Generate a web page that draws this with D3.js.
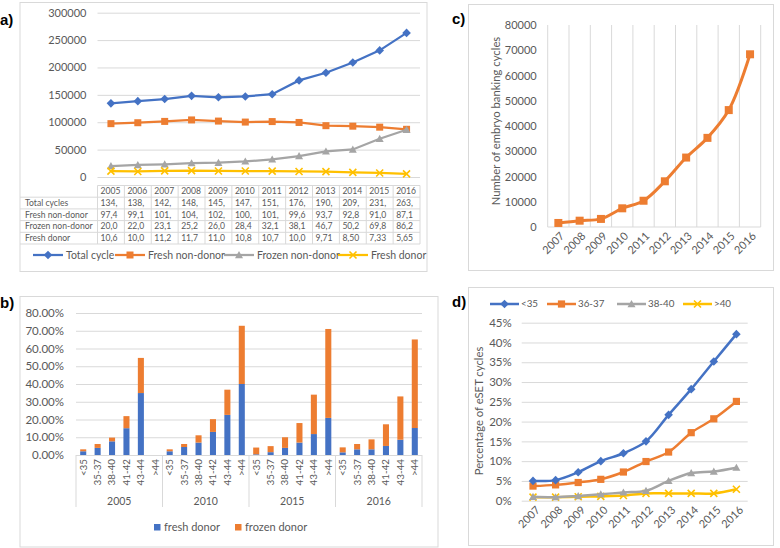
<!DOCTYPE html>
<html><head><meta charset="utf-8">
<script src="https://cdn.jsdelivr.net/npm/d3@7"></script>
<style>
body{margin:0;background:#fff}
svg{display:block}
text{font-family:Lato,"Liberation Sans",sans-serif;fill:#595959}
</style>
</head><body>
<svg id="chart" width="780" height="548"></svg>
<script>
// ---------- DATA ----------
// Panel a
const yearsA = ["2005","2006","2007","2008","2009","2010","2011","2012","2013","2014","2015","2016"];
const totalCycles    = [134500,138500,142300,148200,145600,147100,151200,176400,190300,209200,231200,263100];
const freshNonDonor  = [97400,99100,101500,104200,102100,100300,101200,99600,93700,92800,91000,87100];
const frozenNonDonor = [20050,22010,23150,25250,26050,28450,32150,38150,46750,50250,69850,86250];
const freshDonor     = [10650,10050,11250,11750,11050,10850,10750,10050,9715,8505,7335,5655];
const seriesA = ["Total cycle","Fresh non-donor","Frozen non-donor","Fresh donor"];
const rowLabelsA = ["Total cycles","Fresh non-donor","Frozen non-donor","Fresh donor"];
const ticksA = [0,50000,100000,150000,200000,250000,300000];

// Panel b
const yearsB = ["2005","2010","2015","2016"];
const ageGroupsB = ["<35","35-37","38-40","41-42","43-44",">44"];
const freshDonorB  = [0.021,0.040,0.077,0.151,0.349,0,  0.021,0.045,0.070,0.130,0.226,0.400,
                      0.004,0.016,0.040,0.070,0.118,0.209, 0.015,0.032,0.032,0.051,0.086,0.152];
const frozenDonorB = [0.011,0.022,0.021,0.068,0.198,0,  0.011,0.017,0.041,0.072,0.142,0.328,
                      0.038,0.034,0.060,0.110,0.222,0.501, 0.028,0.030,0.056,0.122,0.244,0.499];
const seriesB = ["fresh donor","frozen donor"];
const ticksB = [0,0.1,0.2,0.3,0.4,0.5,0.6,0.7,0.8];

// Panel c
const yearsC = ["2007","2008","2009","2010","2011","2012","2013","2014","2015","2016"];
const bankingCycles = [1600,2500,3200,7400,10400,18100,27500,35300,46300,68400];
const ticksC = [0,10000,20000,30000,40000,50000,60000,70000,80000];

// Panel d
const yearsD = ["2007","2008","2009","2010","2011","2012","2013","2014","2015","2016"];
const eset_lt35  = [0.050,0.052,0.072,0.100,0.120,0.150,0.217,0.282,0.352,0.421];
const eset_36_37 = [0.037,0.040,0.046,0.054,0.0725,0.099,0.123,0.172,0.207,0.251];
const eset_38_40 = [0.010,0.009,0.012,0.016,0.021,0.025,0.050,0.070,0.074,0.0835];
const eset_gt40  = [0.009,0.009,0.010,0.011,0.013,0.0185,0.0185,0.0185,0.0185,0.029];
const seriesD = ["<35","36-37","38-40",">40"];
const ticksD = [0,0.05,0.1,0.15,0.2,0.25,0.3,0.35,0.4,0.45];

// ---------- STYLE ----------
const GRID = "#D9D9D9", TXT = "#595959";
const COL = {blue:"#4472C4", orange:"#ED7D31", gray:"#A5A5A5", yellow:"#FFC000"};
const svg = d3.select("#chart");

function marker(g, type, x, y, color, s) {
  if (type === "diamond") {
    g.append("path").attr("d", `M${x},${y-s}L${x+s},${y}L${x},${y+s}L${x-s},${y}Z`).attr("fill", color);
  } else if (type === "square") {
    g.append("rect").attr("x", x-s).attr("y", y-s).attr("width", 2*s).attr("height", 2*s).attr("fill", color);
  } else if (type === "triangle") {
    g.append("path").attr("d", `M${x},${y-s}L${x+s},${y+s*0.8}L${x-s},${y+s*0.8}Z`).attr("fill", color);
  } else if (type === "x") {
    g.append("path").attr("d", `M${x-s},${y-s}L${x+s},${y+s}M${x-s},${y+s}L${x+s},${y-s}`)
      .attr("stroke", color).attr("stroke-width", 1.6).attr("fill", "none");
  }
}
function box(x, y, w, h) {
  svg.append("rect").attr("x", x+0.5).attr("y", y+0.5).attr("width", w).attr("height", h)
    .attr("fill", "none").attr("stroke", GRID).attr("stroke-width", 1);
}
function panelLabel(t, x, y) {
  svg.append("text").attr("x", x).attr("y", y).text(t)
    .style("font-family", "'Liberation Sans',Arial,sans-serif").style("font-weight", "bold")
    .style("font-size", "15px").style("fill", "#000");
}
function yGrid(g, scale, ticks, x0, width, fmt, pad, fs) {
  const ax = d3.axisLeft(scale).tickValues(ticks).tickSize(-width).tickPadding(pad).tickFormat(fmt);
  const a = g.append("g").attr("transform", `translate(${x0},0)`).call(ax);
  a.select(".domain").remove();
  a.selectAll("line").attr("stroke", GRID);
  a.selectAll("text").style("font-size", fs).style("fill", TXT).style("font-family", "Lato,'Liberation Sans',sans-serif");
  return a;
}

// ---------- PANEL A ----------
box(19.5, 2, 407, 269);
panelLabel("a)", 0, 25);
{
  const g = svg.append("g");
  const x = d3.scaleBand().domain(yearsA).range([97.5, 420]);
  const y = d3.scaleLinear().domain([0, 300000]).range([177, 12.7]);
  const cx = d => x(d) + x.bandwidth()/2;
  yGrid(g, y, ticksA, 97.5, 322.5, d3.format("d"), 11, "11px");
  const sets = [
    {vals: totalCycles, color: COL.blue, m: "diamond", s: 4.3},
    {vals: freshNonDonor, color: COL.orange, m: "square", s: 3.5},
    {vals: frozenNonDonor, color: COL.gray, m: "triangle", s: 4},
    {vals: freshDonor, color: COL.yellow, m: "x", s: 3.5}
  ];
  const line = d3.line().x((d,i) => cx(yearsA[i])).y(d => y(d));
  sets.forEach(st => {
    g.append("path").attr("d", line(st.vals)).attr("fill", "none").attr("stroke", st.color).attr("stroke-width", 2.25);
    st.vals.forEach((v,i) => marker(g, st.m, cx(yearsA[i]), y(v), st.color, st.s));
  });
  // data table
  const t = svg.append("g");
  const rowH = 11.7, top = 185.5;
  const x0 = 20, x1 = 97.5, x2 = 420;
  t.append("line").attr("x1", x1).attr("x2", x2).attr("y1", top).attr("y2", top).attr("stroke", GRID);
  for (let r = 1; r <= 5; r++) {
    t.append("line").attr("x1", x0).attr("x2", x2).attr("y1", top + r*rowH).attr("y2", top + r*rowH).attr("stroke", GRID);
  }
  yearsA.concat(["_end"]).forEach((yr, i) => {
    const xx = i < yearsA.length ? x(yr) : x2;
    t.append("line").attr("x1", xx).attr("x2", xx).attr("y1", top).attr("y2", top + 5*rowH).attr("stroke", GRID);
  });
  const tfs = "8.6px";
  yearsA.forEach(yr => {
    t.append("text").attr("x", x(yr) + 3).attr("y", top + rowH/2).attr("dy", "0.35em").text(yr).style("font-size", tfs);
  });
  const rows = [totalCycles, freshNonDonor, frozenNonDonor, freshDonor];
  rows.forEach((vals, r) => {
    const yy = top + (r + 1.5)*rowH;
    t.append("text").attr("x", 25).attr("y", yy).attr("dy", "0.35em").text(rowLabelsA[r]).style("font-size", tfs);
    vals.forEach((v, i) => {
      t.append("text").attr("x", x(yearsA[i]) + 3).attr("y", yy).attr("dy", "0.35em")
        .text(d3.format(",")(v).slice(0, 4)).style("font-size", tfs);
    });
  });
  // legend
  const lg = svg.append("g");
  const lx = [33, 115, 224, 338];
  sets.forEach((st, i) => {
    const ly = 255;
    lg.append("line").attr("x1", lx[i]).attr("x2", lx[i] + 30).attr("y1", ly).attr("y2", ly).attr("stroke", st.color).attr("stroke-width", 2.25);
    marker(lg, st.m, lx[i] + 15, ly, st.color, st.s);
    lg.append("text").attr("x", lx[i] + 33).attr("y", ly).attr("dy", "0.35em").text(seriesA[i]).style("font-size", "10.5px");
  });
}

// ---------- PANEL B ----------
box(19.5, 296, 418, 250.5);
panelLabel("b)", 0, 308);
{
  const g = svg.append("g");
  const keys = [];
  yearsB.forEach(yr => ageGroupsB.forEach(a => keys.push(yr + "|" + a)));
  const x = d3.scaleBand().domain(keys).range([76, 422]).paddingInner(0.58).paddingOuter(0.29);
  const y = d3.scaleLinear().domain([0, 0.8]).range([455, 313]);
  yGrid(g, y, ticksB, 76, 346, d3.format(".2%"), 12, "11.5px");
  const rows = keys.map((k, i) => ({key: k, fresh: freshDonorB[i], frozen: frozenDonorB[i]}));
  const stack = d3.stack().keys(["fresh", "frozen"])(rows);
  const colors = [COL.blue, COL.orange];
  stack.forEach((layer, li) => {
    g.selectAll(null).data(layer).join("rect")
      .attr("x", d => x(d.data.key)).attr("width", x.bandwidth())
      .attr("y", d => y(d[1])).attr("height", d => y(d[0]) - y(d[1]))
      .attr("fill", colors[li]);
  });
  // category labels
  keys.forEach(k => {
    const cx = x(k) + x.bandwidth()/2;
    g.append("text").attr("transform", `translate(${cx},459) rotate(-90)`).attr("text-anchor", "end")
      .attr("dy", "0.35em").text(k.split("|")[1]).style("font-size", "9.8px");
  });
  const step = x.step();
  yearsB.forEach((yr, i) => {
    const gx0 = x(yr + "|" + ageGroupsB[0]) - x.paddingOuter()*step - 0;
    const gx = 76 + i * (346/yearsB.length);
    g.append("line").attr("x1", gx).attr("x2", gx).attr("y1", 455).attr("y2", 507).attr("stroke", GRID);
    g.append("text").attr("x", gx + 346/yearsB.length/2).attr("y", 504.5).attr("text-anchor", "middle")
      .text(yr).style("font-size", "10.5px");
  });
  g.append("line").attr("x1", 422).attr("x2", 422).attr("y1", 455).attr("y2", 507).attr("stroke", GRID);
  // legend
  const lx = [154, 235];
  seriesB.forEach((s, i) => {
    g.append("rect").attr("x", lx[i]).attr("y", 524).attr("width", 6.5).attr("height", 6.5).attr("fill", colors[i]);
    g.append("text").attr("x", lx[i] + 10).attr("y", 527.5).attr("dy", "0.35em").text(s).style("font-size", "11px");
  });
}

// ---------- PANEL C ----------
box(468, 4, 305, 266);
panelLabel("c)", 452, 24);
{
  const g = svg.append("g");
  const x = d3.scaleBand().domain(yearsC).range([547.7, 760.7]);
  const y = d3.scaleLinear().domain([0, 80000]).range([227, 25]);
  const cx = d => x(d) + x.bandwidth()/2;
  // vertical gridlines
  yearsC.concat(["_end"]).forEach((yr, i) => {
    const xx = i < yearsC.length ? x(yr) : 760.7;
    g.append("line").attr("x1", xx).attr("x2", xx).attr("y1", 25).attr("y2", 227).attr("stroke", GRID);
  });
  g.append("line").attr("x1", 547.7).attr("x2", 760.7).attr("y1", 227).attr("y2", 227).attr("stroke", GRID);
  const ax = g.append("g").attr("transform", "translate(547.7,0)")
    .call(d3.axisLeft(y).tickValues(ticksC).tickSize(0).tickPadding(11).tickFormat(d3.format("d")));
  ax.select(".domain").remove();
  ax.selectAll("text").style("font-size", "11px").style("fill", TXT).style("font-family", "Lato,'Liberation Sans',sans-serif");
  yearsC.forEach(yr => {
    g.append("text").attr("transform", `translate(${cx(yr)+4},234) rotate(-45)`).attr("text-anchor", "end")
      .attr("dy", "0.35em").text(yr).style("font-size", "11px");
  });
  g.append("text").attr("transform", "translate(496,121) rotate(-90)").attr("text-anchor", "middle")
    .attr("dy", "0.35em").text("Number of embryo banking cycles").style("font-size", "11.3px");
  const line = d3.line().x((d,i) => cx(yearsC[i])).y(d => y(d)).curve(d3.curveCatmullRom);
  g.append("path").attr("d", line(bankingCycles)).attr("fill", "none").attr("stroke", COL.orange).attr("stroke-width", 3);
  bankingCycles.forEach((v, i) => marker(g, "square", cx(yearsC[i]), y(v), COL.orange, 4));
}

// ---------- PANEL D ----------
box(468, 287, 305, 258);
panelLabel("d)", 452, 307);
{
  const g = svg.append("g");
  const x = d3.scaleBand().domain(yearsD).range([521.7, 747.7]);
  const y = d3.scaleLinear().domain([0, 0.45]).range([500.7, 322.7]);
  const cx = d => x(d) + x.bandwidth()/2;
  yGrid(g, y, ticksD, 521.7, 226, d3.format(".0%"), 10, "11.5px");
  yearsD.forEach(yr => {
    g.append("text").attr("transform", `translate(${cx(yr)+5},508) rotate(-45)`).attr("text-anchor", "end")
      .attr("dy", "0.35em").text(yr).style("font-size", "11px");
  });
  g.append("text").attr("transform", "translate(479,411) rotate(-90)").attr("text-anchor", "middle")
    .attr("dy", "0.35em").text("Percentage of eSET cycles").style("font-size", "11.3px");
  const sets = [
    {vals: eset_lt35, color: COL.blue, m: "diamond", s: 4.3},
    {vals: eset_36_37, color: COL.orange, m: "square", s: 3.6},
    {vals: eset_38_40, color: COL.gray, m: "triangle", s: 4},
    {vals: eset_gt40, color: COL.yellow, m: "x", s: 3.5}
  ];
  const line = d3.line().x((d,i) => cx(yearsD[i])).y(d => y(d)).curve(d3.curveCatmullRom);
  sets.slice().reverse().forEach(st => {
    g.append("path").attr("d", line(st.vals)).attr("fill", "none").attr("stroke", st.color).attr("stroke-width", 2.5);
    st.vals.forEach((v, i) => marker(g, st.m, cx(yearsD[i]), y(v), st.color, st.s));
  });
  const lx = [490, 547, 617, 683];
  sets.forEach((st, i) => {
    const ly = 304;
    g.append("line").attr("x1", lx[i]).attr("x2", lx[i] + 29).attr("y1", ly).attr("y2", ly).attr("stroke", st.color).attr("stroke-width", 2.5);
    marker(g, st.m, lx[i] + 14.5, ly, st.color, st.s);
    g.append("text").attr("x", lx[i] + 31).attr("y", ly).attr("dy", "0.35em").text(seriesD[i]).style("font-size", "9.8px");
  });
}
</script>
</body></html>
